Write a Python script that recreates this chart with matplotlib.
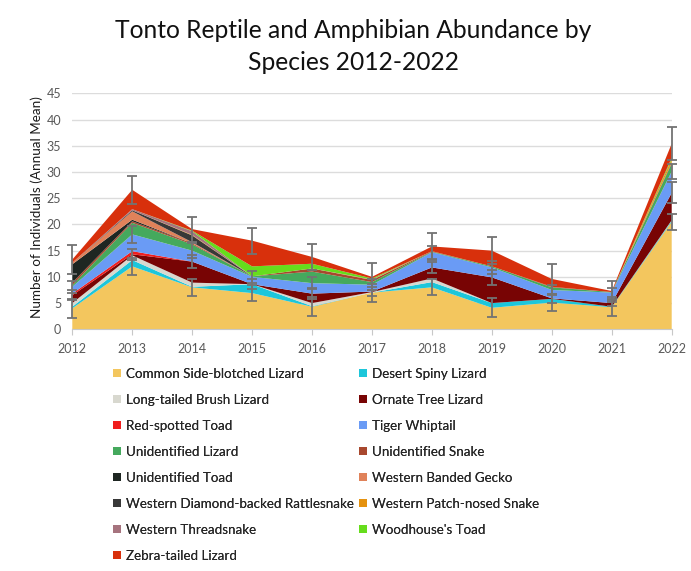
import matplotlib
matplotlib.use("Agg")
import matplotlib.pyplot as plt
import numpy as np

plt.rcParams['font.family'] = ['Lato', 'DejaVu Sans']

years = [2012, 2013, 2014, 2015, 2016, 2017, 2018, 2019, 2020, 2021, 2022]

species = [
    "Common Side-blotched Lizard", "Desert Spiny Lizard", "Long-tailed Brush Lizard",
    "Ornate Tree Lizard", "Red-spotted Toad", "Tiger Whiptail", "Unidentified Lizard",
    "Unidentified Snake", "Unidentified Toad", "Western Banded Gecko",
    "Western Diamond-backed Rattlesnake", "Western Patch-nosed Snake",
    "Western Threadsnake", "Woodhouse's Toad", "Zebra-tailed Lizard",
]

common_side_blotched = [4.0, 12.0, 8.0, 6.9, 4.3, 7.0, 8.0, 4.1, 5.1, 4.2, 20.5]
desert_spiny = [0.3, 1.2, 0.1, 1.7, 0.1, 0.0, 1.0, 0.9, 0.7, 0.1, 0.2]
long_tailed_brush = [0.7, 0.9, 0.8, 0.0, 0.6, 0.1, 0.7, 0.0, 0.0, 0.0, 0.1]
ornate_tree = [1.5, 0.2, 4.0, 0.0, 1.8, 0.1, 2.1, 4.9, 0.1, 0.7, 5.2]
red_spotted_toad = [0.3, 0.6, 0.0, 0.0, 0.0, 0.0, 0.0, 0.0, 0.0, 0.0, 0.0]
tiger_whiptail = [1.3, 3.2, 2.1, 1.4, 2.0, 1.3, 2.9, 1.9, 1.6, 2.0, 4.1]
unidentified_lizard = [0.3, 2.2, 1.2, 0.1, 2.2, 0.5, 0.1, 0.2, 0.5, 0.1, 1.5]
unidentified_snake = [0.5, 0.3, 0.2, 0.0, 0.6, 0.4, 0.1, 0.0, 0.1, 0.0, 0.2]
unidentified_toad = [3.5, 0.3, 0.0, 0.0, 0.0, 0.0, 0.0, 0.0, 0.0, 0.0, 0.0]
western_banded_gecko = [0.3, 1.6, 0.2, 0.0, 0.0, 0.1, 0.0, 0.0, 0.0, 0.0, 0.0]
diamond_backed_rattlesnake = [0.0, 0.2, 1.3, 0.0, 0.0, 0.0, 0.0, 0.0, 0.0, 0.0, 0.0]
patch_nosed_snake = [0.0, 0.0, 0.1, 0.0, 0.0, 0.0, 0.0, 0.0, 0.0, 0.0, 0.6]
western_threadsnake = [0.0, 0.2, 0.7, 0.0, 0.0, 0.0, 0.0, 0.0, 0.0, 0.0, 0.0]
woodhouses_toad = [0.0, 0.0, 0.1, 1.9, 0.9, 0.2, 0.0, 0.0, 0.0, 0.0, 0.3]
zebra_tailed = [0.6, 3.7, 0.3, 4.9, 1.3, 0.3, 0.9, 3.0, 1.5, 0.2, 2.7]

# standard errors of the annual means for the main series
err_side_blotched = [1.8, 1.6, 1.6, 1.5, 1.8, 1.7, 1.5, 1.8, 1.6, 1.6, 1.5]
err_ornate_tree = [1.0, 1.0, 1.2, 1.0, 1.0, 0.8, 1.0, 1.5, 0.8, 0.6, 2.0]
err_whiptail = [1.2, 1.6, 1.4, 1.2, 1.2, 1.0, 1.2, 1.2, 1.0, 0.8, 1.5]
err_zebra_tailed = [2.7, 2.7, 2.4, 2.5, 2.5, 2.6, 2.6, 2.6, 2.8, 2.0, 3.2]

colors = [
    "#F3C65E", "#1DC6DA", "#D8D8CF", "#780404", "#F01E1E", "#6A9BF5", "#45A95D",
    "#A8482E", "#1E2622", "#E0825A", "#383838", "#E5920F", "#A6737E", "#66DD1C",
    "#D8300C",
]

series = [
    common_side_blotched, desert_spiny, long_tailed_brush, ornate_tree,
    red_spotted_toad, tiger_whiptail, unidentified_lizard, unidentified_snake,
    unidentified_toad, western_banded_gecko, diamond_backed_rattlesnake,
    patch_nosed_snake, western_threadsnake, woodhouses_toad, zebra_tailed,
]

W, H = 691, 571
fig = plt.figure(figsize=(W / 100, H / 100), dpi=100)
fig.patch.set_facecolor("white")

left, right, top, bottom = 72.3, 671.7, 93.3, 329.3
ax = fig.add_axes([left / W, 1 - bottom / H, (right - left) / W, (bottom - top) / H])

ax.stackplot(years, *series, colors=colors, labels=species, linewidth=0, zorder=2)

cum = np.cumsum(np.array(series), axis=0)
for idx, err in [(0, err_side_blotched), (3, err_ornate_tree),
                 (5, err_whiptail), (14, err_zebra_tailed)]:
    ax.errorbar(years, cum[idx], yerr=err, fmt="none", ecolor="#737373",
                elinewidth=1.3, capsize=3.5, capthick=1.3, zorder=3, clip_on=False)

ax.set_xlim(2012, 2022)
ax.set_ylim(0, 45)
ax.set_yticks(np.arange(0, 46, 5))
ax.set_xticks(years)
ax.grid(axis="y", color="#dcdcdc", linewidth=1.0, zorder=0)
ax.set_axisbelow(True)
for s in ["top", "right", "left"]:
    ax.spines[s].set_visible(False)
ax.spines["bottom"].set_color("#c8c8c8")
ax.spines["bottom"].set_zorder(4)
ax.tick_params(axis="y", length=0, labelsize=9, labelcolor="#595959", pad=8)
ax.tick_params(axis="x", length=4, color="#c8c8c8", labelsize=9,
               labelcolor="#595959", pad=6)

ax.set_ylabel("Number of Individuals (Annual Mean)", fontsize=9.7, color="#1a1a1a")
ax.yaxis.set_label_coords(-0.049, 0.52)

fig.text(353 / W, 1 - 30 / H, "Tonto Reptile and Amphibian Abundance by",
         ha="center", va="center", fontsize=17.7, color="#111111")
fig.text(353 / W, 1 - 62 / H, "Species 2012-2022",
         ha="center", va="center", fontsize=17.7, color="#111111")

# legend: two columns, read row by row
handles, labels = ax.get_legend_handles_labels()
col_specs = [(113, handles[0::2], labels[0::2]), (359, handles[1::2], labels[1::2])]
for x0, hs, ls in col_specs:
    leg = fig.legend(hs, ls, loc="upper left", bbox_to_anchor=(x0 / W, 1 - 368 / H),
                     frameon=False, fontsize=9.6, handlelength=0.57, handleheight=0.57,
                     handletextpad=0.4, labelspacing=1.05, borderpad=0,
                     borderaxespad=0)
    for t in leg.get_texts():
        t.set_color("#262626")
    fig.add_artist(leg)

fig.savefig("out.png", dpi=100)
